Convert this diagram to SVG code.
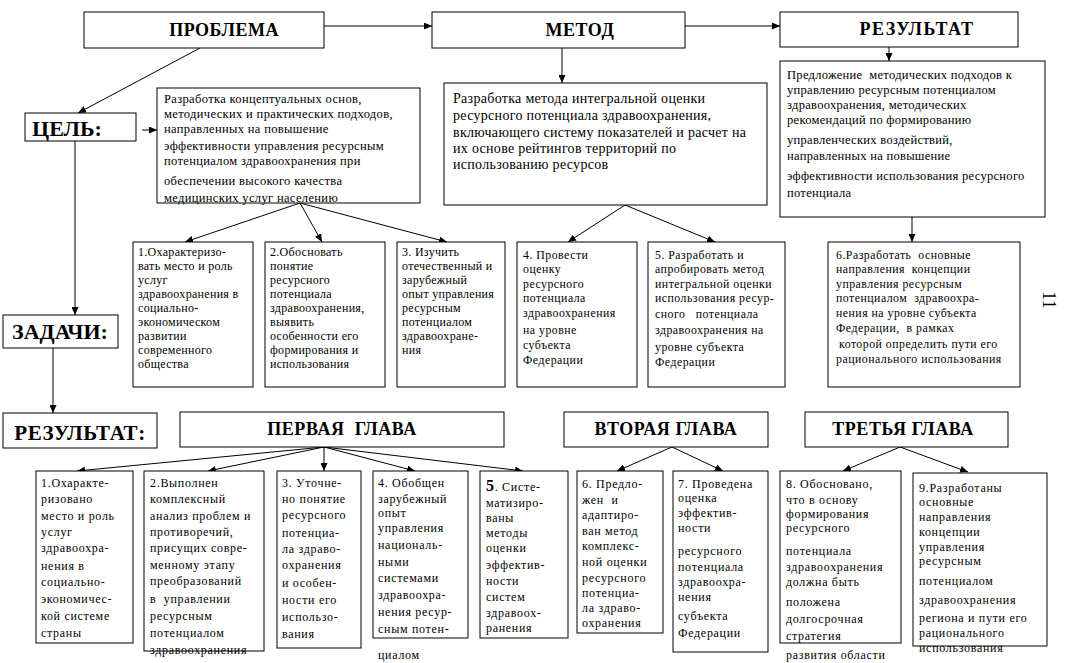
<svg xmlns="http://www.w3.org/2000/svg" width="1076" height="663" viewBox="0 0 1076 663">
<style>
.b{fill:#fff;stroke:#000;stroke-width:1}
.c{fill:none;stroke:#000;stroke-width:1;marker-end:url(#ah)}
.h{font-size:18px;font-weight:bold;text-anchor:middle;letter-spacing:0.5px}
.ch{font-size:18px;font-weight:bold;text-anchor:middle;letter-spacing:0.6px}
.H{font-size:22px;font-weight:bold;text-anchor:middle}
.s{font-size:12px;letter-spacing:0.3px}
.s2{font-size:11.8px;letter-spacing:0.5px}
.m{font-size:12.5px;letter-spacing:0.35px}
.g{font-size:14px;letter-spacing:0.3px}
.q{font-size:12.5px;letter-spacing:0.3px}
.r{font-size:12px;letter-spacing:0.7px}
</style>
<defs>
<marker id="ah" markerWidth="8" markerHeight="7" refX="8" refY="3.5" orient="auto" markerUnits="userSpaceOnUse">
<path d="M0,0 L8,3.5 L0,7 z" fill="#000"/>
</marker>
</defs>
<rect x="0" y="0" width="1076" height="663" fill="#fff"/>
<g id="connectors">
<line class="c" x1="324" y1="26" x2="432" y2="26"/>
<line class="c" x1="685" y1="26" x2="780" y2="26"/>
<line class="c" x1="200" y1="48" x2="78" y2="113"/>
<line class="c" x1="142" y1="130" x2="157" y2="130"/>
<line class="c" x1="562" y1="48" x2="562" y2="83"/>
<line class="c" x1="889" y1="47" x2="889" y2="61"/>
<line class="c" x1="75" y1="141" x2="75" y2="315"/>
<line class="c" x1="53" y1="348" x2="53" y2="413"/>
<line class="c" x1="300" y1="203" x2="185" y2="242"/>
<line class="c" x1="300" y1="203" x2="322" y2="242"/>
<line class="c" x1="300" y1="203" x2="447" y2="242"/>
<line class="c" x1="625" y1="205" x2="568" y2="242"/>
<line class="c" x1="625" y1="205" x2="715" y2="242"/>
<line class="c" x1="912" y1="217" x2="912" y2="242"/>
<line class="c" x1="324" y1="447" x2="77" y2="471"/>
<line class="c" x1="324" y1="447" x2="208" y2="471"/>
<line class="c" x1="324" y1="447" x2="324" y2="471"/>
<line class="c" x1="324" y1="447" x2="415" y2="471"/>
<line class="c" x1="324" y1="447" x2="523" y2="471"/>
<line class="c" x1="672" y1="447" x2="617" y2="471"/>
<line class="c" x1="672" y1="447" x2="723" y2="471"/>
<line class="c" x1="900" y1="447" x2="843" y2="471"/>
<line class="c" x1="900" y1="447" x2="968" y2="472"/>
</g>
<g id="problem"><rect class="b" x="84" y="12" width="240" height="36"/><text font-family="Liberation Serif" class="h" x="224" y="36">ПРОБЛЕМА</text></g>
<g id="method"><rect class="b" x="432" y="12" width="253" height="36"/><text font-family="Liberation Serif" class="h" x="580" y="36">МЕТОД</text></g>
<g id="result-top"><rect class="b" x="780" y="12" width="238" height="35"/><text font-family="Liberation Serif" class="h" x="917" y="35" style="letter-spacing:1.5px">РЕЗУЛЬТАТ</text></g>

<g id="goal-label"><rect class="b" x="25" y="113" width="111" height="28"/><text font-family="Liberation Serif" class="H" x="67" y="136">ЦЕЛЬ:</text></g>
<g id="goal"><rect class="b" x="157" y="88" width="263" height="115"/>
<text font-family="Liberation Serif" class="m"><tspan x="164" y="103">Разработка концептуальных основ,</tspan><tspan x="164" y="118">методических и практических подходов,</tspan><tspan x="164" y="133">направленных на повышение</tspan><tspan x="164" y="150">эффективности управления ресурсным</tspan><tspan x="164" y="165">потенциалом здравоохранения при</tspan><tspan x="164" y="185">обеспечении высокого качества</tspan><tspan x="164" y="202">медицинских услуг населению</tspan></text></g>

<g id="method-text"><rect class="b" x="444" y="83" width="323" height="122"/>
<text font-family="Liberation Serif" class="g"><tspan x="453" y="103">Разработка метода интегральной оценки</tspan><tspan x="453" y="120">ресурсного потенциала здравоохранения,</tspan><tspan x="453" y="137">включающего систему показателей и расчет на</tspan><tspan x="453" y="153">их основе рейтингов территорий по</tspan><tspan x="453" y="169">использованию ресурсов</tspan></text></g>

<g id="result-text"><rect class="b" x="780" y="61" width="265" height="156"/>
<text font-family="Liberation Serif" class="q"><tspan x="787" y="79">Предложение &#160;методических подходов к</tspan><tspan x="787" y="94">управлению ресурсным потенциалом</tspan><tspan x="787" y="109">здравоохранения, методических</tspan><tspan x="787" y="124">рекомендаций по формированию</tspan><tspan x="787" y="144">управленческих воздействий,</tspan><tspan x="787" y="160">направленных на повышение</tspan><tspan x="787" y="180">эффективности использования ресурсного</tspan><tspan x="787" y="197">потенциала</tspan></text></g>

<g id="tasks-label"><rect class="b" x="3" y="315" width="115" height="33"/><text font-family="Liberation Serif" class="H" x="60" y="339">ЗАДАЧИ:</text></g>

<g id="task1"><rect class="b" x="133" y="242" width="120" height="145"/>
<text font-family="Liberation Serif" class="s"><tspan x="138" y="256">1.Охарактеризо-</tspan><tspan x="138" y="270">вать место и роль</tspan><tspan x="138" y="284">услуг</tspan><tspan x="138" y="298">здравоохранения в</tspan><tspan x="138" y="312">социально-</tspan><tspan x="138" y="326">экономическом</tspan><tspan x="138" y="340">развитии</tspan><tspan x="138" y="354">современного</tspan><tspan x="138" y="368">общества</tspan></text></g>
<g id="task2"><rect class="b" x="265" y="242" width="120" height="145"/>
<text font-family="Liberation Serif" class="s"><tspan x="270" y="256">2.Обосновать</tspan><tspan x="270" y="270">понятие</tspan><tspan x="270" y="284">ресурсного</tspan><tspan x="270" y="298">потенциала</tspan><tspan x="270" y="312">здравоохранения,</tspan><tspan x="270" y="326">выявить</tspan><tspan x="270" y="340">особенности его</tspan><tspan x="270" y="354">формирования и</tspan><tspan x="270" y="368">использования</tspan></text></g>
<g id="task3"><rect class="b" x="397" y="242" width="108" height="145"/>
<text font-family="Liberation Serif" class="s"><tspan x="402" y="256">3. Изучить</tspan><tspan x="402" y="270">отечественный и</tspan><tspan x="402" y="284">зарубежный</tspan><tspan x="402" y="298">опыт управления</tspan><tspan x="402" y="312">ресурсным</tspan><tspan x="402" y="326">потенциалом</tspan><tspan x="402" y="340">здравоохране-</tspan><tspan x="402" y="354">ния</tspan></text></g>
<g id="task4"><rect class="b" x="517" y="242" width="120" height="145"/>
<text font-family="Liberation Serif" class="s2"><tspan x="523" y="259">4. Провести</tspan><tspan x="523" y="273">оценку</tspan><tspan x="523" y="288">ресурсного</tspan><tspan x="523" y="302">потенциала</tspan><tspan x="523" y="317">здравоохранения</tspan><tspan x="523" y="334">на уровне</tspan><tspan x="523" y="349">субъекта</tspan><tspan x="523" y="364">Федерации</tspan></text></g>
<g id="task5"><rect class="b" x="648" y="242" width="137" height="145"/>
<text font-family="Liberation Serif" class="s2"><tspan x="655" y="259">5. Разработать и</tspan><tspan x="655" y="273">апробировать метод</tspan><tspan x="655" y="288">интегральной оценки</tspan><tspan x="655" y="302">использования ресур-</tspan><tspan x="655" y="318">сного &#160; потенциала</tspan><tspan x="655" y="334">здравоохранения на</tspan><tspan x="655" y="351">уровне субъекта</tspan><tspan x="655" y="366">Федерации</tspan></text></g>
<g id="task6"><rect class="b" x="828" y="242" width="192" height="145"/>
<text font-family="Liberation Serif" class="s2"><tspan x="836" y="259">6.Разработать &#160;основные</tspan><tspan x="836" y="273">направления &#160;концепции</tspan><tspan x="836" y="288">управления ресурсным</tspan><tspan x="836" y="302">потенциалом &#160;здравоохра-</tspan><tspan x="836" y="317">нения на уровне субъекта</tspan><tspan x="836" y="332">Федерации, &#160;в рамках</tspan><tspan x="839" y="348">которой определить пути его</tspan><tspan x="836" y="363">рационального использования</tspan></text></g>

<text font-family="Liberation Serif" x="1043" y="300" transform="rotate(90 1043 300)" font-size="18" text-anchor="middle">11</text>

<g id="result-label"><rect class="b" x="3" y="413" width="154" height="35"/><text font-family="Liberation Serif" class="H" x="80" y="440" style="font-size:21px;letter-spacing:0.6px">РЕЗУЛЬТАТ:</text></g>
<g id="chapter1"><rect class="b" x="180" y="412" width="324" height="35"/><text font-family="Liberation Serif" class="ch" x="342" y="435">ПЕРВАЯ &#160;ГЛАВА</text></g>
<g id="chapter2"><rect class="b" x="564" y="412" width="204" height="35"/><text font-family="Liberation Serif" class="ch" x="666" y="435">ВТОРАЯ ГЛАВА</text></g>
<g id="chapter3"><rect class="b" x="805" y="412" width="203" height="35"/><text font-family="Liberation Serif" class="ch" x="903" y="435">ТРЕТЬЯ ГЛАВА</text></g>

<g id="res1"><rect class="b" x="36" y="471" width="97" height="172"/>
<text font-family="Liberation Serif" class="r"><tspan x="41" y="487">1.Охаракте-</tspan><tspan x="41" y="503">ризовано</tspan><tspan x="41" y="520">место и роль</tspan><tspan x="41" y="536">услуг</tspan><tspan x="41" y="552">здравоохра-</tspan><tspan x="41" y="570">нения в</tspan><tspan x="41" y="586">социально-</tspan><tspan x="41" y="603">экономичес-</tspan><tspan x="41" y="620">кой системе</tspan><tspan x="41" y="637">страны</tspan></text></g>
<g id="res2"><rect class="b" x="144" y="471" width="120" height="180"/>
<text font-family="Liberation Serif" class="r"><tspan x="150" y="487">2.Выполнен</tspan><tspan x="150" y="503">комплексный</tspan><tspan x="150" y="520">анализ проблем и</tspan><tspan x="150" y="536">противоречий,</tspan><tspan x="150" y="552">присущих совре-</tspan><tspan x="150" y="569">менному этапу</tspan><tspan x="150" y="585">преобразований</tspan><tspan x="150" y="603">в &#160;управлении</tspan><tspan x="150" y="620">ресурсным</tspan><tspan x="150" y="637">потенциалом</tspan><tspan x="150" y="654">здравоохранения</tspan></text></g>
<g id="res3"><rect class="b" x="277" y="471" width="84" height="177"/>
<text font-family="Liberation Serif" class="r"><tspan x="282" y="487">3. Уточне-</tspan><tspan x="282" y="503">но понятие</tspan><tspan x="282" y="519">ресурсного</tspan><tspan x="282" y="537">потенциа-</tspan><tspan x="282" y="553">ла здраво-</tspan><tspan x="282" y="569">охранения</tspan><tspan x="282" y="587">и особен-</tspan><tspan x="282" y="604">ности его</tspan><tspan x="282" y="621">использо-</tspan><tspan x="282" y="638">вания</tspan></text></g>
<g id="res4"><rect class="b" x="373" y="471" width="95" height="167"/>
<text font-family="Liberation Serif" class="r"><tspan x="378" y="487">4. Обобщен</tspan><tspan x="378" y="503">зарубежный</tspan><tspan x="378" y="517">опыт</tspan><tspan x="378" y="532">управления</tspan><tspan x="378" y="549">националь-</tspan><tspan x="378" y="566">ными</tspan><tspan x="378" y="582">системами</tspan><tspan x="378" y="599">здравоохра-</tspan><tspan x="378" y="616">нения ресур-</tspan><tspan x="378" y="633">сным потен-</tspan><tspan x="378" y="659">циалом</tspan></text></g>
<g id="res5"><rect class="b" x="480" y="471" width="88" height="167"/>
<text font-family="Liberation Serif" class="r"><tspan x="486" y="491"><tspan font-size="16" font-weight="bold">5</tspan>. Систе-</tspan><tspan x="486" y="507">матизиро-</tspan><tspan x="486" y="522">ваны</tspan><tspan x="486" y="537">методы</tspan><tspan x="486" y="552">оценки</tspan><tspan x="486" y="569">эффектив-</tspan><tspan x="486" y="585">ности</tspan><tspan x="486" y="601">систем</tspan><tspan x="486" y="617">здравоох-</tspan><tspan x="486" y="632">ранения</tspan></text></g>
<g id="res6"><rect class="b" x="577" y="471" width="86" height="162"/>
<text font-family="Liberation Serif" class="r"><tspan x="582" y="488">6. Предло-</tspan><tspan x="582" y="504">жен &#160;и</tspan><tspan x="582" y="519">адаптиро-</tspan><tspan x="582" y="535">ван метод</tspan><tspan x="582" y="550">комплекс-</tspan><tspan x="582" y="566">ной оценки</tspan><tspan x="582" y="582">ресурсного</tspan><tspan x="582" y="597">потенциа-</tspan><tspan x="582" y="612">ла здраво-</tspan><tspan x="582" y="627">охранения</tspan></text></g>
<g id="res7"><rect class="b" x="673" y="471" width="95" height="181"/>
<text font-family="Liberation Serif" class="r"><tspan x="678" y="488">7. Проведена</tspan><tspan x="678" y="502">оценка</tspan><tspan x="678" y="517">эффектив-</tspan><tspan x="678" y="532">ности</tspan><tspan x="678" y="555">ресурсного</tspan><tspan x="678" y="571">потенциала</tspan><tspan x="678" y="586">здравоохра-</tspan><tspan x="678" y="601">нения</tspan><tspan x="678" y="620">субъекта</tspan><tspan x="678" y="637">Федерации</tspan></text></g>
<g id="res8"><rect class="b" x="780" y="471" width="121" height="172"/>
<text font-family="Liberation Serif" class="r"><tspan x="786" y="488">8. Обосновано,</tspan><tspan x="786" y="504">что в основу</tspan><tspan x="786" y="518">формирования</tspan><tspan x="786" y="532">ресурсного</tspan><tspan x="786" y="555">потенциала</tspan><tspan x="786" y="571">здравоохранения</tspan><tspan x="786" y="586">должна быть</tspan><tspan x="786" y="606">положена</tspan><tspan x="786" y="623">долгосрочная</tspan><tspan x="786" y="640">стратегия</tspan><tspan x="786" y="659">развития области</tspan></text></g>
<g id="res9"><rect class="b" x="913" y="473" width="134" height="173"/>
<text font-family="Liberation Serif" class="r"><tspan x="919" y="492">9.Разработаны</tspan><tspan x="919" y="506">основные</tspan><tspan x="919" y="521">направления</tspan><tspan x="919" y="536">концепции</tspan><tspan x="919" y="551">управления</tspan><tspan x="919" y="565">ресурсным</tspan><tspan x="919" y="585">потенциалом</tspan><tspan x="919" y="604">здравоохранения</tspan><tspan x="919" y="622">региона и пути его</tspan><tspan x="919" y="637">рационального</tspan><tspan x="919" y="652">использования</tspan></text></g>
</svg>
